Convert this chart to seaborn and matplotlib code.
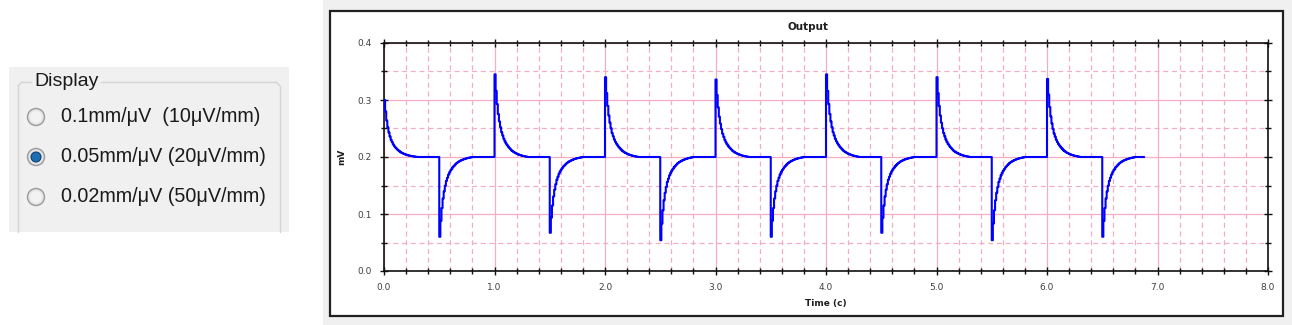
import numpy as np
import pandas as pd
import matplotlib
matplotlib.use("Agg")
import matplotlib.pyplot as plt
import seaborn as sns
from matplotlib.patches import Rectangle, Circle
from matplotlib.ticker import MultipleLocator, FormatStrFormatter

# ---------------- data ----------------
sample_step = 0.01          # s between samples of the trace
baseline_mv = 0.2           # resting level, mV
end_time = 6.88             # last sample of the trace, s
edge_times = [0.0, 0.5, 1.0, 1.5, 2.0, 2.5, 3.0, 3.5, 4.0, 4.5, 5.0, 5.5, 6.0, 6.5]
edge_levels = [0.300, 0.060, 0.345, 0.067, 0.340, 0.054, 0.336,
               0.060, 0.345, 0.067, 0.340, 0.054, 0.337, 0.060]
# fraction of the jump still present, one value per sample after an edge
decay_profile = [1.00, 0.80, 0.64, 0.52, 0.43, 0.36, 0.30, 0.26, 0.22, 0.19,
                 0.165, 0.145, 0.125, 0.11, 0.095, 0.08, 0.07, 0.06, 0.052, 0.045,
                 0.038, 0.032, 0.027, 0.022, 0.018, 0.014, 0.011, 0.008, 0.005, 0.003, 0.0]

x_ticks = [0.0, 1.0, 2.0, 3.0, 4.0, 5.0, 6.0, 7.0, 8.0]
y_ticks = [0.0, 0.1, 0.2, 0.3, 0.4]
title_text = "Output"
x_label = "Time (c)"
y_label = "mV"
panel_title = "Display"
radio_labels = ["0.1mm/\u03bcV  (10\u03bcV/mm)", "0.05mm/\u03bcV (20\u03bcV/mm)", "0.02mm/\u03bcV (50\u03bcV/mm)"]
radio_selected = 1

# ---------------- build the trace from the read values ----------------
n = int(round(end_time / sample_step)) + 1
time_s = np.arange(n) * sample_step
trace = np.full(n, baseline_mv)
for t0, lvl in zip(edge_times, edge_levels):
    i0 = int(round(t0 / sample_step))
    for k, f in enumerate(decay_profile):
        if i0 + k < n:
            trace[i0 + k] += (lvl - baseline_mv) * f
df = pd.DataFrame({"Time": time_s, "mV": trace})

# ---------------- figure ----------------
sns.set_theme(style="white")
plt.rcParams['font.family'] = ['DejaVu Sans']
W, H = 1292, 325
fig = plt.figure(figsize=(W / 100, H / 100), dpi=100)
fig.patch.set_facecolor("white")

# pixel-space background axes for the UI bits
ui = fig.add_axes([0, 0, 1, 1], zorder=0)
ui.set_xlim(0, W)
ui.set_ylim(H, 0)
ui.axis("off")

# left group panel
ui.add_patch(Rectangle((9, 67), 280, 165, facecolor="#f0f0f0", edgecolor="none"))
gb = "#d5d5d5"
ui.plot([18, 18], [86, 232], color=gb, lw=1.0)
ui.plot([280, 280], [86, 232], color=gb, lw=1.0)
ui.plot([22, 31], [82, 82], color=gb, lw=1.0)
ui.plot([101, 276], [82, 82], color=gb, lw=1.0)
ui.plot([18, 22], [86, 82], color=gb, lw=1.0)
ui.plot([276, 280], [82, 86], color=gb, lw=1.0)
ui.text(34, 81, panel_title, fontsize=14, family="Liberation Sans", va="center", ha="left", color="#1a1a1a")
for i, lab in enumerate(radio_labels):
    cy = 117 + 40 * i
    ui.add_patch(Circle((36, cy), 8.5, facecolor="#e4e4e4", edgecolor="#9a9a9a", lw=1.0))
    ui.add_patch(Circle((36, cy), 6, facecolor="#f2f2f2", edgecolor="none"))
    if i == radio_selected:
        ui.add_patch(Circle((36, cy), 5, facecolor="#1d6fb5", edgecolor="#0d3f70", lw=0.8))
    ui.text(61, cy, lab, fontsize=14.2, family="Liberation Sans", va="center", ha="left", color="#1a1a1a")

# right chart frame
ui.add_patch(Rectangle((323, 0), W - 323, H, facecolor="#f0f0f0", edgecolor="none"))
ui.add_patch(Rectangle((330, 11), 953, 305, facecolor="white", edgecolor="#202020", lw=1.6))
ui.text(808, 27, title_text, fontsize=7.5, fontweight="bold", ha="center", va="center", color="#202020")

# chart axes
L, R, T, B = 384, 1268, 43, 271
ax = fig.add_axes([L / W, 1 - B / H, (R - L) / W, (B - T) / H], zorder=1)
ax.set_facecolor("white")
sns.lineplot(data=df, x="Time", y="mV", ax=ax, color="#0000ff", lw=1.5,
             drawstyle="steps-post", estimator=None, sort=False, zorder=3)

ax.set_xlim(x_ticks[0], x_ticks[-1])
ax.set_ylim(y_ticks[0], y_ticks[-1])
ax.set_xticks(x_ticks)
ax.set_yticks(y_ticks)
ax.xaxis.set_major_formatter(FormatStrFormatter("%.1f"))
ax.yaxis.set_major_formatter(FormatStrFormatter("%.1f"))
ax.xaxis.set_minor_locator(MultipleLocator(0.2))
ax.yaxis.set_minor_locator(MultipleLocator(0.05))

pink = "#f5adc2"
ax.grid(True, which="major", color=pink, lw=0.9, ls="-", zorder=0)
ax.grid(True, which="minor", color=pink, lw=0.9, ls=(0, (4, 3)), zorder=0)
ax.set_axisbelow(True)

for s in ax.spines.values():
    s.set_color("#101010")
    s.set_linewidth(1.2)
    s.set_visible(True)

ax.tick_params(axis="both", which="major", direction="inout", length=6, width=1.0,
               color="#101010", labelsize=6.5, labelcolor="#404040",
               bottom=True, left=True, top=True, right=True)
ax.tick_params(axis="both", which="minor", direction="inout", length=5, width=1.0,
               color="#101010", bottom=True, left=True, top=True, right=True)
ax.tick_params(axis="x", which="major", pad=6)
ax.tick_params(axis="y", which="major", pad=6)

ax.set_xlabel(x_label, fontsize=6.5, fontweight="bold", color="#202020", labelpad=5)
ax.set_ylabel(y_label, fontsize=6.5, fontweight="bold", color="#202020", labelpad=8)

fig.savefig("out.png", dpi=100, facecolor="white")
